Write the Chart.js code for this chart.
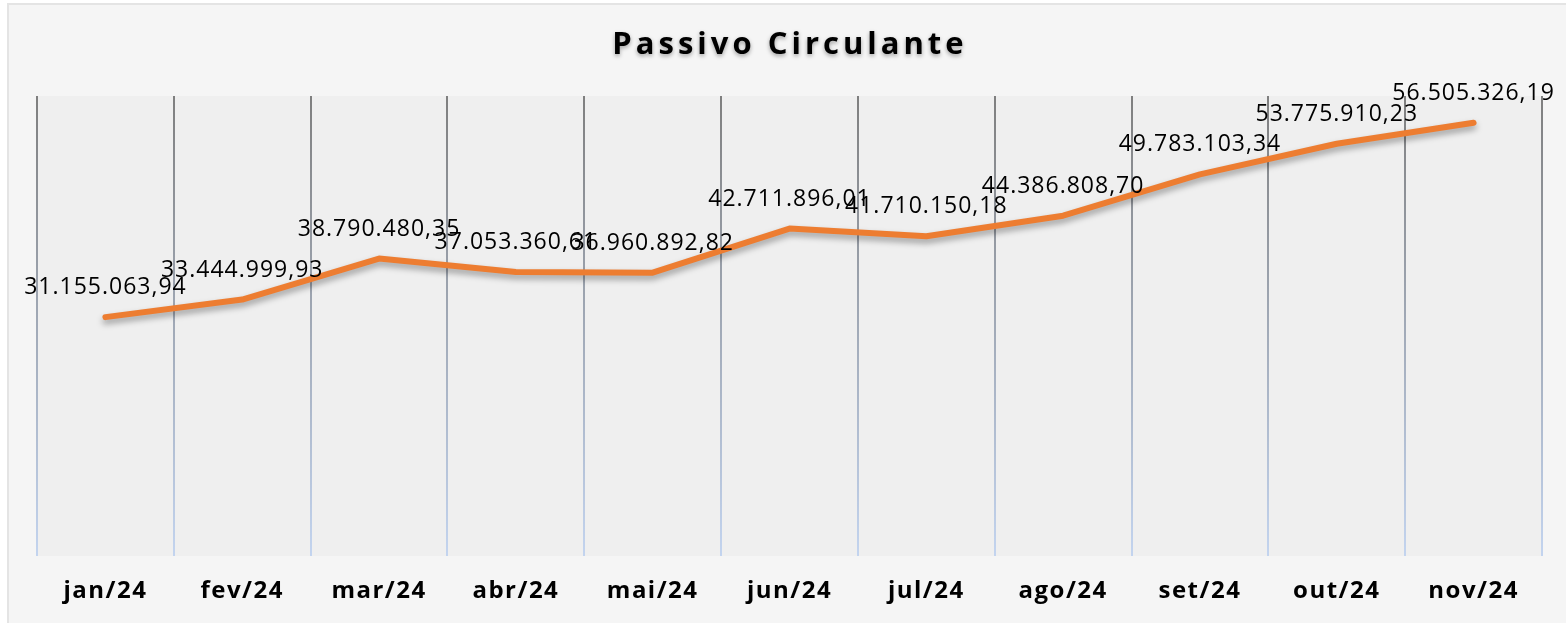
<!DOCTYPE html>
<html>
<head>
<meta charset="utf-8">
<script src="https://cdn.jsdelivr.net/npm/chart.js@4"></script>
<style>
    html, body { margin: 0; padding: 0; background: #ffffff; }
    body { width: 1566px; height: 623px; position: relative; overflow: hidden; }
    .frame {
        position: absolute; left: 7px; top: 3px; width: 1570px; height: 625px;
        background: #f5f5f5; border: 2px solid #e4e4e4; box-sizing: border-box;
    }
    #wrap { position: absolute; left: 0; top: 0; width: 1566px; height: 623px; }
</style>
</head>
<body>
<div class="frame"></div>
<div id="wrap"><canvas id="passivoChart"></canvas></div>
<script>
const chartTitle = 'Passivo Circulante';
const months = ['jan/24', 'fev/24', 'mar/24', 'abr/24', 'mai/24', 'jun/24', 'jul/24', 'ago/24', 'set/24', 'out/24', 'nov/24'];
const passivoValues = [31155063.94, 33444999.93, 38790480.35, 37053360.61, 36960892.82, 42711896.01, 41710150.18, 44386808.70, 49783103.34, 53775910.23, 56505326.19];
const yMin = 0;
const yMax = 60000000;

function formatBR(value) {
    return Number(value).toLocaleString('pt-BR', { minimumFractionDigits: 2, maximumFractionDigits: 2 });
}

// fundo da area do grafico + espacamento das letras dos eixos
const areaBackground = {
    id: 'areaBackground',
    beforeDraw(chart) {
        const { ctx, chartArea } = chart;
        ctx.save();
        ctx.fillStyle = '#efefef';
        ctx.fillRect(chartArea.left, chartArea.top, chartArea.right - chartArea.left, chartArea.bottom - chartArea.top);
        ctx.restore();
        ctx.letterSpacing = '1.5px';
    }
};

// titulo com espacamento e sombra
const titleDraw = {
    id: 'titleDraw',
    afterDraw(chart) {
        const { ctx } = chart;
        ctx.save();
        ctx.font = 'bold 31px "Open Sans"';
        ctx.letterSpacing = '4px';
        ctx.textAlign = 'center';
        ctx.textBaseline = 'middle';
        ctx.shadowColor = 'rgba(0,0,0,0.35)';
        ctx.shadowBlur = 4;
        ctx.shadowOffsetY = 2;
        ctx.fillStyle = '#000000';
        ctx.fillText(chartTitle, 790, 45);
        ctx.restore();
    }
};

// sombra da linha
const lineShadow = {
    id: 'lineShadow',
    beforeDatasetsDraw(chart) {
        const ctx = chart.ctx;
        ctx.save();
        ctx.shadowColor = 'rgba(0,0,0,0.35)';
        ctx.shadowBlur = 6;
        ctx.shadowOffsetY = 4;
    },
    afterDatasetsDraw(chart) {
        chart.ctx.restore();
    }
};

// rotulos de dados
const valueLabels = {
    id: 'valueLabels',
    afterDatasetsDraw(chart) {
        const { ctx } = chart;
        const meta = chart.getDatasetMeta(0);
        ctx.save();
        ctx.font = '23px "Open Sans"';
        ctx.letterSpacing = '1px';
        ctx.textAlign = 'center';
        ctx.textBaseline = 'alphabetic';
        ctx.fillStyle = '#000000';
        meta.data.forEach((pt, i) => {
            ctx.fillText(formatBR(passivoValues[i]), pt.x, pt.y - 23);
        });
        ctx.restore();
    }
};

function gridGradient(context) {
    const chart = context.chart;
    const area = chart.chartArea;
    if (!area) return '#999999';
    const g = chart.ctx.createLinearGradient(0, area.top, 0, area.bottom);
    g.addColorStop(0, '#7f7f7f');
    g.addColorStop(1, '#c3d4ef');
    return g;
}

const ctx = document.getElementById('passivoChart').getContext('2d');
const passivoChart = new Chart(ctx, {
    type: 'line',
    data: {
        labels: months,
        datasets: [{
            label: chartTitle,
            data: passivoValues,
            borderColor: '#ed7d31',
            backgroundColor: '#ed7d31',
            borderWidth: 6,
            borderCapStyle: 'round',
            borderJoinStyle: 'round',
            pointRadius: 0,
            tension: 0
        }]
    },
    options: {
        responsive: true,
        maintainAspectRatio: false,
        animation: false,
        layout: {
            padding: { top: 96, left: 37, right: 24, bottom: 0 }
        },
        plugins: {
            legend: { display: false },
            title: { display: false },
            tooltip: { enabled: false }
        },
        scales: {
            x: {
                offset: true,
                grid: {
                    offset: true,
                    drawTicks: false,
                    color: gridGradient,
                    lineWidth: 2
                },
                border: { display: false },
                ticks: {
                    padding: 21,
                    color: '#000000',
                    font: { family: '"Open Sans"', size: 24, weight: 'bold' }
                },
                afterFit(scale) { scale.height = 67; }
            },
            y: {
                display: false,
                min: yMin,
                max: yMax
            }
        }
    },
    plugins: [areaBackground, lineShadow, valueLabels, titleDraw]
});
</script>
</body>
</html>
